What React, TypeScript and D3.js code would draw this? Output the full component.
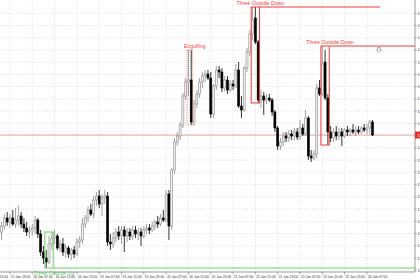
import React from "react";
import * as d3 from "d3";

const W = 420;
const H = 280;
const plotRight = 415;
const plotBottom = 272;

const openP = [
  1.2768, 1.2774, 1.2782, 1.2778, 1.2782, 1.2776, 1.2780, 1.2784, 1.2776, 1.2772,
  1.2768, 1.2770, 1.2772, 1.2780, 1.2766, 1.2748, 1.2742, 1.2738, 1.2756, 1.2762,
  1.2764, 1.2752, 1.2756, 1.2748, 1.2752, 1.2746, 1.2750, 1.2746, 1.2758, 1.2760,
  1.2776, 1.2782, 1.2790, 1.2786, 1.2800, 1.2804, 1.2796, 1.2802, 1.2804, 1.2758,
  1.2756, 1.2762, 1.2768, 1.2764, 1.2770, 1.2764, 1.2768, 1.2764, 1.2770, 1.2766,
  1.2768, 1.2764, 1.2770, 1.2772, 1.2770, 1.2774, 1.2778, 1.2776, 1.2782, 1.2780,
  1.2806, 1.2774, 1.2830, 1.2858, 1.2864, 1.2875, 1.2904, 1.2918, 1.2920, 1.2878,
  1.2896, 1.2906, 1.2918, 1.2924, 1.2926, 1.2922, 1.2886, 1.2914, 1.2930, 1.2928,
  1.2912, 1.2920, 1.2910, 1.2916, 1.2914, 1.2930, 1.2894, 1.2890, 1.2932, 1.2948,
  1.2966, 1.2982, 1.2958, 1.2900, 1.2904, 1.2900, 1.2902, 1.2900, 1.2888, 1.2872,
  1.2854, 1.2858, 1.2864, 1.2862, 1.2866, 1.2864, 1.2868, 1.2863, 1.2872, 1.2866,
  1.2882, 1.2844, 1.2842, 1.2846, 1.2912, 1.2906, 1.2938, 1.2902, 1.2868, 1.2862,
  1.2868, 1.2864, 1.2868, 1.2864, 1.2870, 1.2868, 1.2870, 1.2868, 1.2870, 1.2868,
  1.2872, 1.2870, 1.2872, 1.2878,
];

const highP = [
  1.2778, 1.2786, 1.2788, 1.2786, 1.2790, 1.2792, 1.2795, 1.2788, 1.2782, 1.2778,
  1.2774, 1.2776, 1.2784, 1.2782, 1.2770, 1.2754, 1.2750, 1.2764, 1.2768, 1.2770,
  1.2766, 1.2760, 1.2762, 1.2756, 1.2754, 1.2752, 1.2754, 1.2762, 1.2764, 1.2782,
  1.2785, 1.2794, 1.2796, 1.2804, 1.2808, 1.2810, 1.2806, 1.2810, 1.2808, 1.2766,
  1.2768, 1.2772, 1.2774, 1.2774, 1.2774, 1.2772, 1.2772, 1.2774, 1.2774, 1.2772,
  1.2772, 1.2774, 1.2776, 1.2776, 1.2778, 1.2780, 1.2784, 1.2786, 1.2790, 1.2810,
  1.2810, 1.2832, 1.2862, 1.2868, 1.2878, 1.2907, 1.2922, 1.2950, 1.2950, 1.2900,
  1.2910, 1.2922, 1.2928, 1.2930, 1.2930, 1.2928, 1.2916, 1.2934, 1.2934, 1.2932,
  1.2924, 1.2924, 1.2920, 1.2920, 1.2936, 1.2938, 1.2904, 1.2934, 1.2952, 1.2970,
  1.2993, 1.2993, 1.2960, 1.2910, 1.2908, 1.2906, 1.2906, 1.2902, 1.2890, 1.2874,
  1.2862, 1.2868, 1.2868, 1.2870, 1.2870, 1.2872, 1.2872, 1.2880, 1.2876, 1.2890,
  1.2884, 1.2850, 1.2850, 1.2916, 1.2920, 1.2954, 1.2950, 1.2906, 1.2874, 1.2872,
  1.2874, 1.2872, 1.2872, 1.2872, 1.2874, 1.2872, 1.2876, 1.2874, 1.2874, 1.2874,
  1.2876, 1.2876, 1.2880, 1.2880,
];

const lowP = [
  1.2760, 1.2770, 1.2774, 1.2772, 1.2774, 1.2772, 1.2774, 1.2772, 1.2768, 1.2764,
  1.2762, 1.2764, 1.2766, 1.2762, 1.2744, 1.2736, 1.2732, 1.2736, 1.2750, 1.2756,
  1.2750, 1.2748, 1.2744, 1.2742, 1.2742, 1.2740, 1.2742, 1.2744, 1.2752, 1.2756,
  1.2772, 1.2778, 1.2784, 1.2782, 1.2794, 1.2792, 1.2784, 1.2796, 1.2754, 1.2750,
  1.2752, 1.2758, 1.2760, 1.2756, 1.2748, 1.2758, 1.2760, 1.2760, 1.2762, 1.2760,
  1.2754, 1.2762, 1.2766, 1.2766, 1.2768, 1.2770, 1.2772, 1.2774, 1.2778, 1.2778,
  1.2760, 1.2770, 1.2826, 1.2854, 1.2860, 1.2872, 1.2900, 1.2904, 1.2875, 1.2874,
  1.2892, 1.2902, 1.2912, 1.2918, 1.2920, 1.2882, 1.2882, 1.2910, 1.2922, 1.2908,
  1.2908, 1.2906, 1.2908, 1.2910, 1.2912, 1.2892, 1.2882, 1.2888, 1.2928, 1.2944,
  1.2960, 1.2956, 1.2897, 1.2892, 1.2885, 1.2896, 1.2898, 1.2884, 1.2868, 1.2850,
  1.2850, 1.2854, 1.2858, 1.2858, 1.2860, 1.2860, 1.2860, 1.2860, 1.2864, 1.2864,
  1.2840, 1.2838, 1.2840, 1.2842, 1.2904, 1.2904, 1.2900, 1.2855, 1.2858, 1.2858,
  1.2860, 1.2860, 1.2854, 1.2862, 1.2864, 1.2864, 1.2866, 1.2864, 1.2866, 1.2866,
  1.2868, 1.2866, 1.2866, 1.2864,
];

const closeP = [
  1.2774, 1.2782, 1.2778, 1.2782, 1.2776, 1.2780, 1.2784, 1.2776, 1.2772, 1.2768,
  1.2770, 1.2772, 1.2780, 1.2766, 1.2748, 1.2742, 1.2738, 1.2756, 1.2762, 1.2764,
  1.2752, 1.2756, 1.2748, 1.2752, 1.2746, 1.2750, 1.2746, 1.2758, 1.2760, 1.2776,
  1.2782, 1.2790, 1.2786, 1.2800, 1.2804, 1.2796, 1.2802, 1.2804, 1.2758, 1.2756,
  1.2762, 1.2768, 1.2764, 1.2770, 1.2764, 1.2768, 1.2764, 1.2770, 1.2766, 1.2768,
  1.2764, 1.2770, 1.2772, 1.2770, 1.2774, 1.2778, 1.2776, 1.2782, 1.2780, 1.2806,
  1.2774, 1.2830, 1.2858, 1.2864, 1.2875, 1.2904, 1.2918, 1.2920, 1.2878, 1.2896,
  1.2906, 1.2918, 1.2924, 1.2926, 1.2922, 1.2886, 1.2914, 1.2930, 1.2928, 1.2912,
  1.2920, 1.2910, 1.2916, 1.2914, 1.2930, 1.2894, 1.2890, 1.2932, 1.2948, 1.2966,
  1.2980, 1.2958, 1.2900, 1.2904, 1.2900, 1.2902, 1.2900, 1.2888, 1.2872, 1.2854,
  1.2858, 1.2864, 1.2862, 1.2866, 1.2864, 1.2868, 1.2863, 1.2872, 1.2866, 1.2882,
  1.2844, 1.2842, 1.2846, 1.2912, 1.2906, 1.2936, 1.2902, 1.2868, 1.2862, 1.2868,
  1.2864, 1.2868, 1.2864, 1.2870, 1.2868, 1.2870, 1.2868, 1.2870, 1.2868, 1.2872,
  1.2870, 1.2872, 1.2878, 1.2865,
];

const timeLabels = [
  "15 Jan 15:00", "15 Jan 23:00", "16 Jan 07:00", "16 Jan 15:00", "16 Jan 23:00",
  "19 Jan 07:00", "19 Jan 15:00", "19 Jan 23:00", "20 Jan 07:00", "20 Jan 15:00",
  "20 Jan 23:00", "21 Jan 07:00", "21 Jan 15:00", "21 Jan 23:00", "22 Jan 07:00",
  "22 Jan 15:00", "22 Jan 23:00", "23 Jan 07:00",
];
const timeLabelBar = [-5, 3, 11, 19, 27, 35, 43, 51, 59, 67, 75, 83, 91, 99, 107, 115, 123, 131];

const priceTicks = [
  1.29868, 1.29746, 1.29623, 1.29501, 1.29378, 1.29256, 1.29134, 1.29011, 1.28889,
  1.28766, 1.28644, 1.28522, 1.28399, 1.28277, 1.28154, 1.28032, 1.27910, 1.27787,
  1.27665, 1.27542, 1.27420, 1.27298,
];

const patternNames = ["Three Outside Up", "Engulfing", "Three Outside Down", "Three Outside Down"];
const patternStart = [16, 67, 90, 115];
const patternLength = [3, 2, 3, 3];
const patternBull = [true, false, false, false];
const patternLineEnd = [999, -1, 135.7, 999];

const currentPrice = 1.2865;
const arrowBar = 135.3;
const arrowPrice = 1.2950;

export default function App() {
  const n = closeP.length;
  const x = d3.scaleLinear().domain([0, n - 1]).range([1.6, 372.5]);
  const y = d3.scaleLinear().domain([1.2728, 1.3]).range([plotBottom, 0]);
  const step = x(1) - x(0);
  const bw = 2.0;
  const font = "'Liberation Sans', Arial, sans-serif";

  const candles = closeP.map((c, i) => {
    const o = openP[i];
    const bull = c >= o;
    const cx = x(i);
    const top = y(Math.max(o, c));
    const bot = y(Math.min(o, c));
    const col = bull ? "#8a8a8a" : "#000";
    return (
      <g key={i}>
        <line x1={cx} x2={cx} y1={y(highP[i])} y2={y(lowP[i])} stroke={col} strokeWidth={0.8} />
        <rect
          x={cx - bw / 2}
          y={top}
          width={bw}
          height={Math.max(0.8, bot - top)}
          fill={bull ? "#f2f2f2" : "#000"}
          stroke={col}
          strokeWidth={0.6}
        />
      </g>
    );
  });

  const patterns = patternNames.map((name, k) => {
    const s = patternStart[k];
    const e = s + patternLength[k] - 1;
    const hi = d3.max(d3.range(s, e + 1), (i) => highP[i]) as number;
    const lo = d3.min(d3.range(s, e + 1), (i) => lowP[i]) as number;
    const x0 = x(s) - step / 2;
    const x1 = x(e) + step / 2;
    const bull = patternBull[k];
    const col = bull ? "#63d463" : "#f03a3a";
    const engulf = patternLength[k] === 2;
    const levelY = bull ? y(lo) : y(hi);
    const lineEndX = patternLineEnd[k] < 0 ? null : Math.min(plotRight, x(patternLineEnd[k]));
    const textY = bull ? y(lo) + 6.5 : y(hi) - 2;
    return (
      <g key={k}>
        <rect
          x={x0}
          y={y(hi)}
          width={x1 - x0}
          height={y(lo) - y(hi)}
          fill="none"
          stroke={engulf ? "#f07070" : col}
          strokeWidth={engulf ? 0.7 : 1}
          strokeDasharray={engulf ? "1.2 0.8" : undefined}
        />
        {lineEndX !== null && (
          <line x1={x1} x2={lineEndX} y1={levelY} y2={levelY} stroke={col} strokeWidth={1} />
        )}
        <text
          x={(x0 + x1) / 2 + 5}
          y={textY}
          fontSize={5.2}
          fontFamily={font}
          fill={col}
          textAnchor="middle"
        >
          {name}
        </text>
      </g>
    );
  });

  const ax = x(arrowBar);
  const ay = y(arrowPrice);
  const arrowPath = `M${ax - 1.2},${ay - 2.5} L${ax + 1.2},${ay - 2.5} L${ax + 1.2},${ay} L${ax + 2.4},${ay} L${ax},${ay + 2.6} L${ax - 2.4},${ay} L${ax - 1.2},${ay} Z`;

  return (
    <svg
      width={W}
      height={H}
      style={{ position: "absolute", left: 0, top: 0, background: "#fff" }}
      xmlns="http://www.w3.org/2000/svg"
    >
      <rect x={0} y={0} width={W} height={H} fill="#fff" />
      {priceTicks.map((p, i) => (
        <line key={"hg" + i} x1={0} x2={plotRight} y1={y(p)} y2={y(p)} stroke="#c8c8c8" strokeWidth={0.6} strokeDasharray="1 1.6" />
      ))}
      {timeLabelBar.map((b, i) => (
        <line key={"vg" + i} x1={x(b)} x2={x(b)} y1={0} y2={plotBottom} stroke="#c8c8c8" strokeWidth={0.6} strokeDasharray="1 1.6" />
      ))}
      <line x1={0} x2={plotRight} y1={y(currentPrice)} y2={y(currentPrice)} stroke="#e89090" strokeWidth={0.8} />
      {candles}
      {patterns}
      <path d={arrowPath} fill="#fff" stroke="#777" strokeWidth={0.6} />
      <line x1={0} x2={plotRight} y1={plotBottom} y2={plotBottom} stroke="#707070" strokeWidth={0.7} />
      <line x1={plotRight} x2={plotRight} y1={0} y2={plotBottom} stroke="#707070" strokeWidth={0.7} />
      {timeLabelBar.map((b, i) => (
        <g key={"tl" + i}>
          <line x1={x(b)} x2={x(b)} y1={plotBottom} y2={plotBottom + 2.5} stroke="#707070" strokeWidth={0.6} />
          <text x={x(b) + 0.8} y={plotBottom + 5.8} fontSize={3.4} fontFamily={font} fill="#333">
            {timeLabels[i]}
          </text>
        </g>
      ))}
      {priceTicks.map((p, i) => (
        <g key={"pl" + i}>
          <line x1={plotRight} x2={plotRight + 1.8} y1={y(p)} y2={y(p)} stroke="#707070" strokeWidth={0.6} />
          <text x={plotRight + 2.5} y={y(p) + 1.5} fontSize={4.2} fontFamily={font} fill="#333">
            {p.toFixed(5)}
          </text>
        </g>
      ))}
      <rect x={plotRight} y={y(currentPrice) - 3.5} width={8} height={7} fill="#e03030" />
      <text x={plotRight + 2.5} y={y(currentPrice) + 1.5} fontSize={4.2} fontFamily={font} fill="#fff">
        {currentPrice.toFixed(5)}
      </text>
    </svg>
  );
}
